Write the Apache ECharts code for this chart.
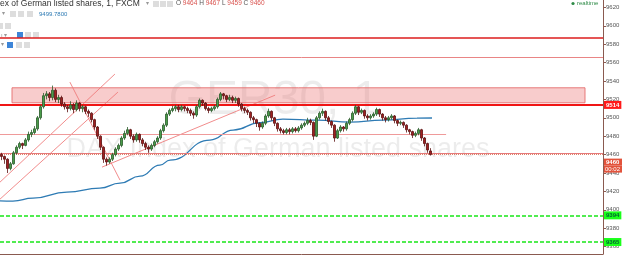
<!DOCTYPE html>
<html><head><meta charset="utf-8">
<script src="https://cdn.jsdelivr.net/npm/echarts@6/dist/echarts.min.js"></script>
<style>html,body{margin:0;padding:0;background:#fff}#c{width:625px;height:256px}</style>
</head><body><div id="c"></div>
<script>
// ---- data ----
const categories = Array.from({length: 201}, (_, i) => 'm' + i);
// [open, close, low, high]
const candles = [
[9460,9458,9454,9462],[9458,9455,9450,9459],[9455,9445,9440,9456],[9445,9450,9443,9452],
[9450,9462,9449,9464],[9462,9468,9460,9470],[9468,9472,9466,9474],[9472,9470,9466,9473],
[9470,9476,9469,9478],[9476,9482,9474,9485],[9482,9484,9479,9487],[9484,9488,9482,9491],
[9488,9500,9486,9502],[9500,9512,9498,9514],[9512,9524,9510,9527],[9524,9526,9520,9529],
[9526,9522,9518,9528],[9522,9530,9519,9535],[9530,9520,9517,9532],[9520,9522,9516,9525],
[9522,9515,9512,9524],[9515,9512,9509,9517],[9512,9510,9506,9514],[9510,9514,9508,9518],
[9514,9509,9505,9516],[9509,9516,9507,9519],[9516,9510,9507,9517],[9510,9512,9506,9514],
[9512,9507,9504,9513],[9507,9505,9501,9509],[9505,9498,9495,9506],[9498,9490,9487,9499],
[9490,9480,9477,9491],[9480,9468,9465,9481],[9468,9455,9451,9469],[9455,9452,9448,9457],
[9452,9455,9450,9457],[9455,9460,9453,9462],[9460,9466,9458,9468],[9466,9470,9464,9472],
[9470,9478,9468,9480],[9478,9483,9476,9486],[9483,9487,9481,9490],[9487,9480,9477,9488],
[9480,9476,9473,9482],[9476,9482,9474,9484],[9482,9476,9473,9483],[9476,9472,9469,9478],
[9472,9468,9465,9474],[9468,9466,9462,9470],[9466,9470,9464,9472],[9470,9474,9468,9476],
[9474,9478,9472,9480],[9478,9486,9476,9488],[9486,9492,9484,9494],[9492,9504,9490,9506],
[9504,9508,9502,9510],[9508,9510,9506,9513],[9510,9512,9507,9514],[9512,9509,9506,9514],
[9509,9512,9507,9514],[9512,9510,9507,9513],[9510,9508,9505,9512],[9508,9505,9502,9510],
[9505,9503,9499,9507],[9503,9512,9501,9514],[9512,9519,9510,9521],[9519,9516,9513,9520],
[9516,9510,9508,9517],[9510,9508,9505,9512],[9508,9510,9506,9512],[9510,9512,9508,9514],
[9512,9520,9510,9522],[9520,9526,9518,9528],[9526,9524,9520,9527],[9524,9520,9517,9525],
[9520,9522,9518,9525],[9522,9519,9516,9524],[9519,9521,9516,9523],[9521,9515,9512,9522],
[9515,9510,9507,9516],[9510,9508,9505,9512],[9508,9506,9503,9510],[9506,9500,9497,9507],
[9500,9498,9494,9502],[9498,9494,9490,9499],[9494,9490,9486,9495],[9490,9494,9488,9496],
[9494,9502,9492,9504],[9502,9507,9500,9510],[9507,9500,9497,9508],[9500,9494,9491,9501],
[9494,9488,9485,9495],[9488,9486,9483,9490],[9486,9484,9482,9488],[9484,9487,9482,9489],
[9487,9485,9482,9489],[9485,9488,9483,9490],[9488,9486,9484,9490],[9486,9489,9484,9491],
[9489,9492,9487,9494],[9492,9494,9490,9496],[9494,9497,9492,9500],[9497,9495,9492,9499],
[9495,9480,9476,9496],[9480,9500,9479,9502],[9500,9505,9498,9507],[9505,9507,9502,9510],
[9507,9500,9497,9508],[9500,9496,9493,9502],[9496,9492,9489,9497],[9492,9478,9474,9493],
[9478,9486,9477,9488],[9486,9490,9484,9492],[9490,9488,9485,9491],[9488,9494,9486,9496],
[9494,9498,9492,9500],[9498,9505,9496,9507],[9505,9512,9503,9514],[9512,9506,9503,9513],
[9506,9508,9504,9510],[9508,9502,9499,9509],[9502,9500,9497,9504],[9500,9502,9498,9504],
[9502,9504,9500,9506],[9504,9509,9502,9511],[9509,9504,9501,9510],[9504,9500,9497,9505],
[9500,9498,9495,9502],[9498,9500,9496,9502],[9500,9502,9498,9504],[9502,9497,9494,9503],
[9497,9494,9491,9498],[9494,9495,9492,9497],[9495,9492,9489,9496],[9492,9487,9484,9493],
[9487,9485,9482,9488],[9485,9481,9478,9486],[9481,9483,9479,9485],[9483,9487,9481,9489],
[9487,9478,9475,9488],[9478,9472,9469,9479],[9472,9465,9462,9473],[9464,9460,9459,9467]
];
// moving average (position in candle slots, value)
const maIndex  = [-0.5, 3.8, 10.5, 21.8, 32.8, 39.5, 46.2, 52.8, 56.2, 69.5, 77.2, 86.2, 93.8, 105.2, 116.2, 127.2, 138.5, 143.5];
const maValues = [9409.8, 9409.5, 9412.7, 9419.2, 9423.6, 9429.0, 9436.6, 9448.6, 9454.0, 9475.8, 9486.6, 9494.7, 9498.6, 9497.5, 9495.3, 9497.5, 9499.7, 9499.8];
// drawn trend lines: [slotStart, valueStart, slotEnd, valueEnd]
const trendLines = [
  [-0.5, 9430.1, 37.8, 9547.5],
  [-0.5, 9411.6, 38.8, 9527.9],
  [22.8, 9538.8, 39.5, 9432.3],
  [33.5, 9446.4, 91.2, 9524.6]
];
const zoneBox = {from: 3.5, to: 194.5, top: 9532.6, bottom: 9516.3};
const levelTop = 9587, levelUpper = 9565.6, levelRes = 9514, levelMid = 9482.3, levelMidEnd = 148.2;
const levelSup = 9461.5, lastPrice = 9460, greenA = 9394, greenB = 9365;
const yMin = 9352, yMax = 9628;
const maLast = '9499.7800';
const ohlc = {O: 9464, H: 9467, L: 9459, C: 9460};

// ---- chart ----
const chart = echarts.init(document.getElementById('c'), null, {renderer: 'canvas'});
const pink = 'rgba(238,120,120,0.85)';
const lineSeries = trendLines.map(t => ({
  type: 'line', xAxisIndex: 1, yAxisIndex: 0, symbol: 'none', silent: true, z: 3,
  lineStyle: {color: pink, width: 1}, data: [[t[0], t[1]], [t[2], t[3]]]
}));
const boxLabel = (txt, bg, fg) => ({show: true, position: 'end', distance: 1, formatter: txt,
  backgroundColor: bg, color: fg, fontSize: 6, fontWeight: 'bold', fontFamily: 'Arial',
  padding: [1, 2, 0, 2], lineHeight: 7});

chart.setOption({
  animation: false,
  backgroundColor: '#ffffff',
  grid: {left: 0, right: 22, top: 0, bottom: 2, containLabel: false},
  xAxis: [
    {type: 'category', data: categories, boundaryGap: true,
     axisLine: {show: true, onZero: false, lineStyle: {color: '#8a5a50', width: 1}},
     axisTick: {show: false}, axisLabel: {show: false}, splitLine: {show: false}},
    {type: 'value', min: -0.5, max: 200.5, show: false,
     axisLine: {show: false, onZero: false}, axisTick: {show: false}, axisLabel: {show: false}, splitLine: {show: false}}
  ],
  yAxis: {type: 'value', position: 'right', min: yMin, max: yMax, splitNumber: 14,
    axisLine: {show: true, onZero: false, lineStyle: {color: '#8a5a50', width: 1}},
    axisTick: {show: true, length: 3, lineStyle: {color: '#8a5a50'}},
    axisLabel: {fontSize: 6, color: '#555', margin: 3, fontFamily: 'Arial', showMinLabel: false, showMaxLabel: false,
      formatter: v => String(v)},
    splitLine: {show: false}},
  graphic: [
    {type: 'text', z: 0, x: 274, y: 101, silent: true,
     style: {text: 'GER30, 1', font: '48px Arial', fill: 'rgba(0,0,0,0.075)', align: 'center', verticalAlign: 'middle'}},
    {type: 'text', z: 0, x: 278, y: 150, silent: true,
     style: {text: 'DAX Index of German listed shares', font: '27px Arial', fill: 'rgba(0,0,0,0.075)', align: 'center', verticalAlign: 'middle'}},
    {type: 'text', x: 0, y: 3.5, style: {text: 'ex of German listed shares, 1, FXCM', font: '8.5px Arial', fill: '#333', verticalAlign: 'middle'}},
    {type: 'text', x: 176, y: 3.5, style: {
      text: '{l|O} {v|' + ohlc.O + '} {l|H} {v|' + ohlc.H + '} {l|L} {v|' + ohlc.L + '} {l|C} {v|' + ohlc.C + '}',
      verticalAlign: 'middle', font: '6.5px Arial',
      rich: {l: {fill: '#555', font: '6.5px Arial'}, v: {fill: '#d9534f', font: '6.5px Arial'}}}},
    {type: 'text', x: 39, y: 14, style: {text: maLast, font: '6px Arial', fill: '#2e7bb4', verticalAlign: 'middle'}},
    // realtime indicator
    {type: 'circle', shape: {cx: 573, cy: 3.5, r: 1.6}, style: {fill: '#2e8b47'}},
    {type: 'text', x: 577, y: 3.5, style: {text: 'realtime', font: '6px Arial', fill: '#2e8b47', verticalAlign: 'middle'}},
    // toolbar icons
    {type: 'text', x: 146, y: 3.5, style: {text: '▾', font: '6px Arial', fill: '#999', verticalAlign: 'middle'}},
    {type: 'rect', shape: {x: 153, y: 1, width: 6, height: 6}, style: {fill: '#ddd'}},
    {type: 'rect', shape: {x: 160, y: 1, width: 6, height: 6}, style: {fill: '#ddd'}},
    {type: 'rect', shape: {x: 167, y: 1, width: 6, height: 6}, style: {fill: '#ddd'}},
    {type: 'text', x: 2, y: 13, style: {text: '▾', font: '6px Arial', fill: '#999', verticalAlign: 'middle'}},
    {type: 'rect', shape: {x: 10, y: 11, width: 6, height: 6}, style: {fill: '#ddd'}},
    {type: 'rect', shape: {x: 18, y: 11, width: 6, height: 6}, style: {fill: '#ddd'}},
    {type: 'rect', shape: {x: 27, y: 11, width: 6, height: 6}, style: {fill: '#ddd'}},
    {type: 'rect', shape: {x: 0, y: 23, width: 3, height: 6}, style: {fill: '#ddd'}},
    {type: 'rect', shape: {x: 5, y: 23, width: 6, height: 6}, style: {fill: '#ddd'}},
    {type: 'text', x: 1, y: 35, style: {text: 'ı ▾', font: '6px Arial', fill: '#999', verticalAlign: 'middle'}},
    {type: 'rect', shape: {x: 17, y: 32, width: 6, height: 6}, style: {fill: '#3d85d8'}},
    {type: 'rect', shape: {x: 25, y: 32, width: 6, height: 6}, style: {fill: '#ddd'}},
    {type: 'rect', shape: {x: 33, y: 32, width: 6, height: 6}, style: {fill: '#ddd'}},
    {type: 'text', x: 1, y: 44, style: {text: '▾', font: '6px Arial', fill: '#999', verticalAlign: 'middle'}},
    {type: 'rect', shape: {x: 7, y: 42, width: 6, height: 6}, style: {fill: '#3d85d8'}},
    {type: 'rect', shape: {x: 16, y: 42, width: 6, height: 6}, style: {fill: '#ddd'}},
    {type: 'rect', shape: {x: 24, y: 42, width: 6, height: 6}, style: {fill: '#ddd'}}
  ],
  series: [
    {type: 'line', xAxisIndex: 1, yAxisIndex: 0, symbol: 'none', silent: true, z: 1,
     lineStyle: {opacity: 0}, data: [[-0.5, lastPrice]],
     markArea: {silent: true, itemStyle: {color: 'rgba(236,120,120,0.38)', borderColor: 'rgba(230,110,110,0.9)', borderWidth: 1},
       data: [[{coord: [zoneBox.from, zoneBox.top]}, {coord: [zoneBox.to, zoneBox.bottom]}]]},
     markLine: {silent: true, symbol: ['none', 'none'], animation: false,
       label: {show: false},
       data: [
         {yAxis: levelTop, lineStyle: {color: '#dd1c1c', width: 1.5, type: 'solid'}},
         {yAxis: levelUpper, lineStyle: {color: '#e98585', width: 1, type: 'solid'}},
         [{coord: [-0.5, levelMid], lineStyle: {color: '#ef9a9a', width: 1, type: 'solid'}}, {coord: [levelMidEnd, levelMid]}],
         {yAxis: levelSup, lineStyle: {color: '#e57a7a', width: 1, type: 'solid'}},
         {yAxis: lastPrice, lineStyle: {color: '#e0806a', width: 1, type: 'dotted'},
          label: {show: true, position: 'end', distance: 1, formatter: '{a|' + lastPrice + '}\n{b|00:02}',
            rich: {a: {backgroundColor: '#e2533c', color: '#fff', fontSize: 6, fontWeight: 'bold', fontFamily: 'Arial', padding: [1, 2, 0, 2], lineHeight: 7, width: 14},
                   b: {backgroundColor: '#e2533c', color: '#fff', fontSize: 6, fontFamily: 'Arial', padding: [1, 1, 0, 1], lineHeight: 7, width: 16}},
            verticalAlign: 'top', offset: [0, 4]}},
         {yAxis: levelRes, lineStyle: {color: '#f01515', width: 2, type: 'solid'}, label: boxLabel(String(levelRes), '#ff1a1a', '#fff')},
         {yAxis: greenA, lineStyle: {color: '#19e619', width: 1.5, type: [4, 2]}, label: boxLabel(String(greenA), '#1aff1a', '#063')},
         {yAxis: greenB, lineStyle: {color: '#19e619', width: 1.5, type: [4, 2]}, label: boxLabel(String(greenB), '#1aff1a', '#063')}
       ]}},
    ...lineSeries,
    {type: 'line', xAxisIndex: 1, yAxisIndex: 0, symbol: 'none', silent: true, z: 4,
     smooth: 0.5, smoothMonotone: 'x',
     lineStyle: {color: '#2e7bb4', width: 1.3},
     data: maIndex.map((x, k) => [x, maValues[k]])},
    {type: 'candlestick', xAxisIndex: 0, yAxisIndex: 0, barWidth: 2, z: 5,
     itemStyle: {color: '#4a9c4a', color0: '#a02020', borderColor: '#2a5a2a', borderColor0: '#5a1010', borderWidth: 0.8},
     data: candles}
  ]
});
</script>
</body></html>
